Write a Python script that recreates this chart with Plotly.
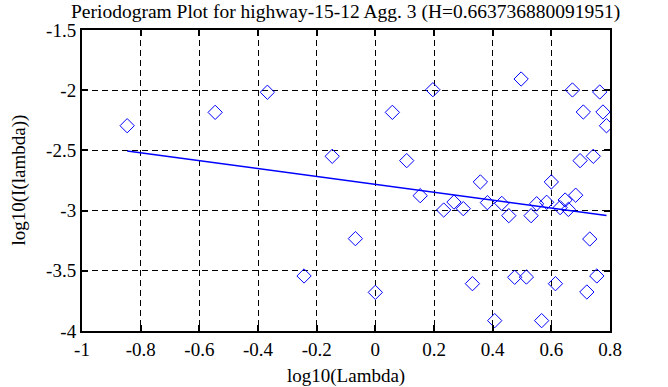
import plotly.graph_objects as go

log_lambda = [-0.846, -0.546, -0.368, -0.243, -0.147, -0.068, 0.000, 0.058, 0.107, 0.153,
              0.196, 0.233, 0.268, 0.300, 0.331, 0.358, 0.382, 0.407, 0.431, 0.455,
              0.475, 0.497, 0.515, 0.531, 0.550, 0.567, 0.584, 0.600, 0.614, 0.630,
              0.647, 0.658, 0.672, 0.683, 0.698, 0.709, 0.721, 0.731, 0.743, 0.755,
              0.765, 0.776, 0.788]
log_I = [-2.295, -2.184, -2.017, -3.543, -2.549, -3.233, -3.679, -2.184, -2.585, -2.876,
         -1.996, -2.995, -2.929, -2.984, -3.607, -2.762, -2.934, -3.914, -2.940, -3.042,
         -3.554, -1.907, -3.552, -3.042, -2.943, -3.914, -2.931, -2.762, -3.607, -2.975,
         -2.912, -2.990, -1.998, -2.872, -2.585, -2.181, -3.676, -3.236, -2.549, -3.543,
         -2.015, -2.181, -2.295]

H = 0.663736880091951
slope = 1 - 2 * H
intercept = -2.782

fit_x = [min(log_lambda), max(log_lambda)]
fit_y = [intercept + slope * v for v in fit_x]

x_ticks = [-1, -0.8, -0.6, -0.4, -0.2, 0, 0.2, 0.4, 0.6, 0.8]
y_ticks = [-4, -3.5, -3, -2.5, -2, -1.5]

title_text = "Periodogram Plot for highway-15-12 Agg. 3 (H=0.663736880091951)"
x_title = "log10(Lambda)"
y_title = "log10(I(lambda))"

fig = go.Figure()
fig.add_trace(go.Scatter(x=log_lambda, y=log_I, mode="markers",
                         marker=dict(symbol="diamond-open", size=11, color="#0000ff",
                                     line=dict(width=1, color="#0000ff")),
                         showlegend=False))
fig.add_trace(go.Scatter(x=fit_x, y=fit_y, mode="lines",
                         line=dict(color="#0000ff", width=1.5), showlegend=False))

font_family = "Liberation Serif"
axis_common = dict(showline=True, linecolor="black", linewidth=2, mirror="ticks",
                   ticks="inside", ticklen=6, tickwidth=2, tickcolor="black",
                   showgrid=True, gridcolor="black", gridwidth=1, griddash="6px,4px",
                   zeroline=False, automargin=False,
                   tickfont=dict(family=font_family, size=19, color="black"))

fig.update_xaxes(range=[-1, 0.8], tickvals=x_ticks,
                 ticktext=[f"{v:g}" for v in x_ticks], **axis_common)
fig.update_yaxes(range=[-4, -1.5], tickvals=y_ticks,
                 ticktext=[f"{v:g}" for v in y_ticks], **axis_common)

fig.add_annotation(text=x_title, xref="paper", yref="paper", x=0.5, y=-0.1495,
                   xanchor="center", yanchor="middle", showarrow=False,
                   font=dict(family=font_family, size=19, color="black"))
fig.add_annotation(text=y_title, xref="paper", yref="paper", x=-0.1212, y=0.5,
                   xanchor="center", yanchor="middle", textangle=-90, showarrow=False,
                   font=dict(family=font_family, size=19, color="black"))

fig.update_layout(
    width=668, height=387,
    margin=dict(l=82, r=58, t=30, b=56),
    paper_bgcolor="white", plot_bgcolor="white",
    title=dict(text=title_text, x=0.5175, xanchor="center", y=0.9716, yanchor="middle",
               font=dict(family=font_family, size=19.5, color="black")),
)

fig.write_html("out.html", config={"displayModeBar": False},
               post_script="document.body.style.margin='0px';")
